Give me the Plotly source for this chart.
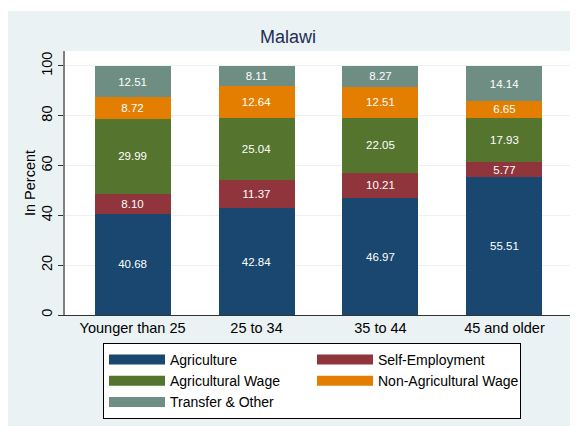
import plotly.graph_objects as go

categories = ["Younger than 25", "25 to 34", "35 to 44", "45 and older"]
agriculture = [40.68, 42.84, 46.97, 55.51]
self_employment = [8.10, 11.37, 10.21, 5.77]
agricultural_wage = [29.99, 25.04, 22.05, 17.93]
non_agricultural_wage = [8.72, 12.64, 12.51, 6.65]
transfer_other = [12.51, 8.11, 8.27, 14.14]
y_ticks = [0, 20, 40, 60, 80, 100]

series = [
    ("Agriculture", agriculture, "#1A476F"),
    ("Self-Employment", self_employment, "#90353B"),
    ("Agricultural Wage", agricultural_wage, "#55752F"),
    ("Non-Agricultural Wage", non_agricultural_wage, "#E37E00"),
    ("Transfer & Other", transfer_other, "#6E8E84"),
]

FONT = "Liberation Sans, Arial, sans-serif"
fig = go.Figure()
for name, vals, color in series:
    fig.add_trace(go.Bar(
        x=categories, y=vals, name=name, legendgroup=name, showlegend=False,
        marker=dict(color=color, line=dict(width=0)),
        text=[f"{v:.2f}" for v in vals],
        textposition="inside", insidetextanchor="middle",
        textangle=0,
        textfont=dict(color="white", size=11.5, family=FONT),
        width=0.613,
    ))
# legend keys drawn as wide swatches
for name, vals, color in series:
    fig.add_trace(go.Scatter(
        x=[None], y=[None], name=name, legendgroup=name, mode="lines",
        line=dict(color=color, width=15), hoverinfo="skip",
    ))

W, H = 578, 426
l, r, t, b = 57, 14, 43, 119
pw, ph = W - l - r, H - t - b

def px_x(px):
    return (px - l) / pw

def px_y(py):
    return (H - b - py) / ph

fig.update_layout(
    width=W, height=H,
    barmode="stack",
    margin=dict(l=l, r=r, t=t, b=b, autoexpand=False),
    paper_bgcolor="#EAF2F3",
    plot_bgcolor="white",
    font=dict(family=FONT, size=14, color="black"),
    title=dict(text="Malawi", x=280 / W, xanchor="center", y=1 - 29 / H, yanchor="middle",
               font=dict(size=18, color="#1E2D53", family=FONT)),
    uniformtext=dict(minsize=11, mode="show"),
    showlegend=True,
    legend=dict(
        orientation="h", x=px_x(95), y=px_y(335), xanchor="left", yanchor="top",
        bgcolor="white", bordercolor="black", borderwidth=1,
        entrywidth=137, entrywidthmode="pixels", itemwidth=56,
        font=dict(size=14, family=FONT, color="black"),
        traceorder="normal", tracegroupgap=0,
    ),
    shapes=[
        dict(type="rect", xref="paper", yref="paper", x0=px_x(0), x1=px_x(W), y0=px_y(3), y1=px_y(0),
             fillcolor="white", line=dict(width=0), layer="below"),
    ],
)
fig.update_xaxes(
    range=[-0.545, 3.545], showline=True, linecolor="#333333", linewidth=1,
    ticks="", tickfont=dict(size=14.5, color="black"), showgrid=False,
)
fig.update_yaxes(
    range=[0, 106], tickvals=y_ticks, ticktext=[str(v) for v in y_ticks],
    showline=True, linecolor="#808080", linewidth=1.5,
    ticks="outside", ticklen=5, tickcolor="#333333", tickangle=-90,
    tickfont=dict(size=14.5, color="black"),
    showgrid=True, gridcolor="#EAF2F3", gridwidth=1, zeroline=False,
    title=dict(text="In Percent", font=dict(size=14.5, color="black"), standoff=0),
)
fig.write_html("out.html")
